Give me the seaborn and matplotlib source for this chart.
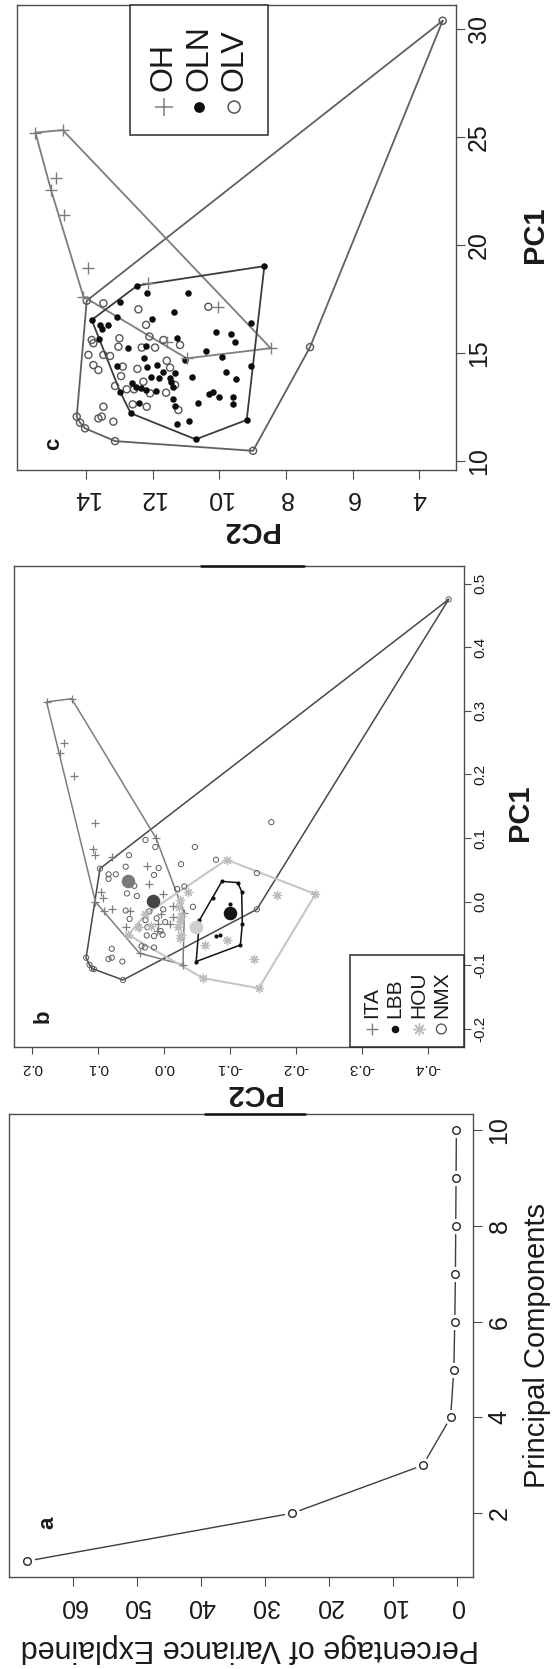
"""
Three-panel PCA figure (scree plot, PC scores by population, PC scores by
type), drawn in portrait orientation: each panel's PC1 / component axis runs
up the page and PC2 / variance runs right-to-left.
"""

import numpy as np
import matplotlib
matplotlib.use("Agg")
import matplotlib.pyplot as plt
from matplotlib.patches import Rectangle
from matplotlib.ticker import FormatStrFormatter
import seaborn as sns

# ---- panel a: scree plot ---------------------------------------------------
COMPONENTS = [1, 2, 3, 4, 5, 6, 7, 8, 9, 10]
PCT_VARIANCE = [67.2, 25.7, 5.3, 0.95, 0.45, 0.3, 0.2, 0.15, 0.1, 0.05]

# ---- panel b: PC scores by population --------------------------------------
ITA_PC2 = [0.178, 0.140, 0.151, 0.158, 0.137, 0.104, 0.108, 0.105, 0.078,
           0.026, 0.012, 0.096, 0.092, 0.079, 0.104, 0.091, 0.058, 0.051,
           0.001, -0.014, -0.014, -0.009, 0.009, 0.010, 0.037, -0.029,
           -0.031, 0.038, 0.022, 0.005]
ITA_PC1 = [0.314, 0.319, 0.250, 0.234, 0.197, 0.123, 0.083, 0.074, 0.071,
           0.056, 0.100, 0.016, 0.006, -0.011, 0.000, -0.015, -0.040, -0.015,
           0.012, -0.007, -0.024, -0.035, -0.035, -0.046, -0.081, -0.099,
           -0.018, -0.040, 0.028, -0.020]

LBB_PC2 = [-0.088, -0.112, -0.118, -0.119, -0.116, -0.049, -0.054, -0.074,
           -0.079, -0.085, -0.101]
LBB_PC1 = [0.032, 0.030, 0.016, -0.035, -0.068, -0.094, -0.029, 0.006,
           -0.054, -0.053, -0.003]

HOU_PC2 = [-0.095, -0.230, -0.171, -0.036, -0.025, -0.023, -0.026, -0.024,
           -0.026, -0.095, -0.062, -0.136, -0.144, -0.059, 0.028, 0.019,
           0.054, 0.039, -0.021, -0.024]
HOU_PC1 = [0.066, 0.012, 0.010, 0.016, 0.003, -0.008, -0.022, -0.031,
           -0.052, -0.060, -0.068, -0.090, -0.136, -0.120, -0.020, -0.038,
           -0.052, -0.040, -0.040, -0.057]

NMX_PC2 = [-0.432, -0.163, -0.047, -0.079, -0.141, 0.028, 0.013, 0.053,
           0.058, 0.008, 0.015, -0.026, -0.031, -0.020, -0.044, -0.141,
           0.056, 0.041, 0.084, 0.084, 0.073, 0.058, 0.052, 0.028, 0.025,
           0.026, 0.015, 0.002, 0.005, -0.002, 0.001, 0.034, 0.029, 0.015,
           0.079, 0.079, 0.084, 0.063, 0.118, 0.113, 0.109, 0.106, 0.062,
           0.097, 0.011, 0.022, 0.045]
NMX_PC1 = [0.475, 0.125, 0.086, 0.066, 0.045, 0.097, 0.086, 0.073, 0.055,
           0.053, 0.042, 0.059, 0.024, 0.020, -0.008, -0.012, 0.013, 0.009,
           0.043, 0.036, 0.043, -0.014, -0.027, -0.029, -0.040, -0.053,
           -0.054, -0.052, -0.046, -0.032, -0.012, -0.070, -0.072, -0.072,
           -0.074, -0.088, -0.090, -0.094, -0.088, -0.099, -0.105, -0.106,
           -0.123, 0.052, -0.026, -0.015, 0.025]

CENTROID_GROUPS = ["ITA", "NMX", "HOU", "LBB"]
CENTROID_PC2 = [0.054, 0.016, -0.049, -0.100]
CENTROID_PC1 = [0.032, 0.001, -0.040, -0.018]

# ---- panel c: PC scores by type --------------------------------------------
OH_PC2 = [15.52, 14.70, 14.90, 15.05, 14.67, 13.93, 14.08, 12.13, 10.03,
          11.58, 10.98, 8.46]
OH_PC1 = [25.19, 25.31, 23.07, 22.53, 21.37, 18.91, 17.60, 18.21, 17.13,
          15.51, 14.74, 15.21]

OLN_PC2 = [12.46, 12.16, 10.95, 12.98, 11.36, 12.03, 13.08, 13.83, 13.58,
           13.33, 13.53, 13.60, 12.73, 12.20, 11.28, 12.25, 10.41, 9.91,
           10.11, 9.66, 9.06, 9.53, 9.06, 11.03, 12.16, 13.08, 11.88, 11.68,
           11.33, 11.48, 12.06, 11.80, 10.83, 12.63, 12.50, 12.35, 12.20,
           11.90, 11.45, 11.38, 12.98, 12.41, 11.40, 11.33, 10.65, 10.30,
           10.18, 10.00, 9.81, 9.50, 9.60, 9.58, 12.66, 11.28, 10.91, 9.18,
           8.65, 10.71]
OLN_PC1 = [18.11, 17.75, 17.75, 17.37, 16.90, 16.56, 16.67, 16.52, 16.29,
           16.29, 16.08, 15.62, 15.24, 15.31, 15.67, 14.74, 15.08, 14.82,
           15.98, 15.85, 16.39, 15.51, 14.40, 14.66, 14.36, 14.39, 14.43,
           14.12, 14.08, 13.82, 13.89, 13.82, 13.89, 13.58, 13.43, 13.35,
           13.28, 13.24, 13.66, 13.43, 13.20, 12.69, 12.84, 12.55, 12.66,
           13.09, 13.20, 12.94, 14.12, 13.77, 12.97, 12.63, 12.20, 11.69,
           11.86, 11.89, 19.01, 10.99]

OLV_PC2 = [13.98, 13.48, 12.43, 12.20, 12.10, 13.00, 13.83, 13.78, 13.93,
           13.48, 13.28, 13.03, 12.33, 11.93, 11.68, 11.18, 13.78, 13.63,
           12.90, 12.46, 11.58, 11.48, 12.95, 12.28, 13.13, 12.78, 12.56,
           11.33, 11.60, 12.60, 12.18, 13.48, 13.53, 13.63, 13.18, 11.23,
           14.28, 14.18, 14.03, 10.33, 12.08, 3.30, 7.28, 8.99, 13.13]
OLV_PC1 = [17.41, 17.29, 17.01, 16.29, 15.75, 15.67, 15.59, 15.44, 14.90,
           14.90, 14.85, 15.28, 15.24, 15.24, 15.59, 15.36, 14.43, 14.20,
           14.36, 14.25, 14.63, 14.31, 13.92, 13.66, 13.46, 13.31, 13.31,
           13.51, 13.15, 12.61, 12.50, 12.50, 12.04, 11.96, 11.81, 12.35,
           12.04, 11.76, 11.50, 17.13, 13.12, 30.37, 15.26, 10.46, 10.91]

# ---- styling ---------------------------------------------------------------
INK = "#1a1a1a"
FRAME = "#4d4d4d"
FONT = ["Liberation Sans", "DejaVu Sans"]

STYLE_B = {
    "ITA": dict(marker="+", color="#7d7d7d", s=34, linewidth=0.9),
    "LBB": dict(marker="o", color="#111111", s=9, linewidth=0),
    "HOU": dict(marker=(8, 2, 0), color="#bdbdbd", s=38, linewidth=0.9),
    "NMX": dict(marker="o", facecolor="none", edgecolor="#5a5a5a", s=14,
                linewidth=0.7),
}
HULL_B = {"ITA": "#7d7d7d", "LBB": "#111111", "HOU": "#c6c6c6",
          "NMX": "#474747"}
CENTROID_COLORS = {"ITA": "#7a7a7a", "NMX": "#454545", "HOU": "#cfcfcf",
                   "LBB": "#141414"}

STYLE_C = {
    "OH": dict(marker="+", color="#7d7d7d", s=64, linewidth=1.0),
    "OLN": dict(marker="o", color="#0d0d0d", s=22, linewidth=0),
    "OLV": dict(marker="o", facecolor="none", edgecolor="#555555", s=26,
                linewidth=1.0),
}
HULL_C = {"OH": "#7d7d7d", "OLN": "#3c3c3c", "OLV": "#606060"}


def convex_hull(xs, ys):
    """Monotone-chain hull, returned closed so it can be drawn as a line."""
    pts = sorted(set(zip(xs, ys)))

    def cross(o, a, b):
        return (a[0] - o[0]) * (b[1] - o[1]) - (a[1] - o[1]) * (b[0] - o[0])

    lower, upper = [], []
    for p in pts:
        while len(lower) >= 2 and cross(lower[-2], lower[-1], p) <= 0:
            lower.pop()
        lower.append(p)
    for p in reversed(pts):
        while len(upper) >= 2 and cross(upper[-2], upper[-1], p) <= 0:
            upper.pop()
        upper.append(p)
    ring = lower[:-1] + upper[:-1]
    ring.append(ring[0])
    return [p[0] for p in ring], [p[1] for p in ring]


def frame(ax):
    for sp in ax.spines.values():
        sp.set_visible(True)
        sp.set_color(FRAME)
        sp.set_linewidth(1.0)


def bottom_axis_label(ax, text, xy, size, weight="normal"):
    ax.set_xlabel(text, fontsize=size, fontweight=weight, rotation=180,
                  color=INK)
    ax.xaxis.label.set_va("center")
    ax.xaxis.set_label_coords(*xy)


def right_axis_label(ax, text, xy, size, weight="normal"):
    ax.set_ylabel(text, fontsize=size, fontweight=weight, rotation=90,
                  color=INK)
    ax.yaxis.set_label_position("right")
    ax.yaxis.label.set_va("center")
    ax.yaxis.label.set_ha("center")
    ax.yaxis.set_label_coords(*xy)


def ticks(ax, size, len_x, len_y, pad_x, pad_y):
    ax.tick_params(axis="x", bottom=True, top=False, length=len_x, width=0.8,
                   color=FRAME, labelsize=size, labelcolor=INK, pad=pad_x,
                   labelrotation=180)
    ax.tick_params(axis="y", left=False, right=True, labelleft=False,
                   labelright=True, length=len_y, width=0.8, color=FRAME,
                   labelsize=size, labelcolor=INK, pad=pad_y,
                   labelrotation=90)
    for lab in ax.get_yticklabels():
        lab.set_va("center")


def manual_legend(ax, box, items, sym_y, txt_y, size):
    x0, y0, x1, y1 = box
    ax.add_patch(Rectangle((x0, y0), x1 - x0, y1 - y0, transform=ax.transAxes,
                           facecolor="white", edgecolor="#2b2b2b", lw=1.1,
                           zorder=5, clip_on=False))
    for label, xpos, style in items:
        ax.scatter([xpos], [sym_y], transform=ax.transAxes, zorder=6,
                   clip_on=False, **style)
        ax.text(xpos, txt_y, label, transform=ax.transAxes, rotation=90,
                rotation_mode="anchor", ha="left", va="center",
                fontsize=size, color=INK, zorder=6)


def main() -> None:
    sns.set_theme(style="white")
    plt.rcParams["font.family"] = FONT

    fig = plt.figure(figsize=(5.6, 16.69), dpi=100)
    ax_c = fig.add_axes([0.0305, 0.71863, 0.7838, 0.27813])
    ax_b = fig.add_axes([0.0255, 0.37280, 0.8027, 0.28825])
    ax_a = fig.add_axes([0.0166, 0.05494, 0.8286, 0.27759])

    # ---- a: scree plot (type = "b") -----------------------------------------
    sns.lineplot(x=PCT_VARIANCE, y=COMPONENTS, sort=False, color="#3d3d3d",
                 linewidth=1.0, ax=ax_a, zorder=2)
    sns.scatterplot(x=PCT_VARIANCE, y=COMPONENTS, color="white", s=120,
                    linewidth=0, ax=ax_a, zorder=3)
    sns.scatterplot(x=PCT_VARIANCE, y=COMPONENTS, marker="o",
                    facecolor="white", edgecolor="#262626", s=30,
                    linewidth=1.0, ax=ax_a, zorder=4)
    ax_a.set_xlim(70.0, -2.6)
    ax_a.set_ylim(0.66, 10.34)
    ax_a.set_xticks([0, 10, 20, 30, 40, 50, 60])
    ax_a.set_yticks([2, 4, 6, 8, 10])
    ticks(ax_a, 18, 6.7, 6.2, 5.0, 4.0)
    bottom_axis_label(ax_a, "Percentage of Variance Explained",
                      (0.519, -0.152), 22)
    right_axis_label(ax_a, "Principal Components", (1.137, 0.5), 21)
    ax_a.text(0.0825, 0.118, "a", transform=ax_a.transAxes, rotation=90,
              ha="center", va="center", fontsize=16, fontweight="bold",
              color=INK)
    ax_a.plot([0.421, 0.637], [1, 1], transform=ax_a.transAxes,
              color="#111111", lw=1.8, clip_on=False, zorder=6)
    frame(ax_a)

    # ---- b: populations -----------------------------------------------------
    groups_b = {"ITA": (ITA_PC2, ITA_PC1), "LBB": (LBB_PC2, LBB_PC1),
                "HOU": (HOU_PC2, HOU_PC1), "NMX": (NMX_PC2, NMX_PC1)}
    for name in ["NMX", "ITA", "HOU", "LBB"]:
        xs, ys = groups_b[name]
        hx, hy = convex_hull(xs, ys)
        ax_b.plot(hx, hy, color=HULL_B[name],
                  lw=1.5 if name == "HOU" else 1.1, zorder=2)
    for name in ["NMX", "ITA", "HOU", "LBB"]:
        xs, ys = groups_b[name]
        sns.scatterplot(x=xs, y=ys, ax=ax_b, zorder=3, **STYLE_B[name])
    for g, cx, cy in zip(CENTROID_GROUPS, CENTROID_PC2, CENTROID_PC1):
        sns.scatterplot(x=[cx], y=[cy], color=CENTROID_COLORS[g], s=95,
                        linewidth=0, ax=ax_b, zorder=4)
    ax_b.set_xlim(0.227, -0.455)
    ax_b.set_ylim(-0.228, 0.528)
    ax_b.set_xticks([-0.4, -0.3, -0.2, -0.1, 0.0, 0.1, 0.2])
    ax_b.set_yticks([-0.2, -0.1, 0.0, 0.1, 0.2, 0.3, 0.4, 0.5])
    ax_b.xaxis.set_major_formatter(FormatStrFormatter("%.1f"))
    ax_b.yaxis.set_major_formatter(FormatStrFormatter("%.1f"))
    ticks(ax_b, 11, 4.8, 5.0, 5.5, 2.0)
    bottom_axis_label(ax_b, "PC2", (0.53, -0.097), 21, "bold")
    right_axis_label(ax_b, "PC1", (1.125, 0.486), 21, "bold")
    ax_b.text(0.064, 0.063, "b", transform=ax_b.transAxes, rotation=90,
              ha="center", va="center", fontsize=16, fontweight="bold",
              color=INK)
    ax_b.plot([0.416, 0.645], [1, 1], transform=ax_b.transAxes,
              color="#111111", lw=1.8, clip_on=False, zorder=6)
    legend_b = [
        ("ITA", 0.796, dict(marker="+", color="#7d7d7d", s=70, linewidth=1.0)),
        ("LBB", 0.846, dict(marker="o", color="#111111", s=30, linewidth=0)),
        ("HOU", 0.900, dict(marker=(8, 2, 0), color="#bdbdbd", s=70,
                            linewidth=1.0)),
        ("NMX", 0.950, dict(marker="o", facecolor="none",
                            edgecolor="#5a5a5a", s=50, linewidth=1.0)),
    ]
    manual_legend(ax_b, (0.746, 0.0, 1.0, 0.191), legend_b, 0.037, 0.060, 15)
    frame(ax_b)

    # ---- c: olive types -----------------------------------------------------
    groups_c = {"OH": (OH_PC2, OH_PC1), "OLN": (OLN_PC2, OLN_PC1),
                "OLV": (OLV_PC2, OLV_PC1)}
    for name in ["OLV", "OH", "OLN"]:
        xs, ys = groups_c[name]
        hx, hy = convex_hull(xs, ys)
        ax_c.plot(hx, hy, color=HULL_C[name], lw=1.3, zorder=2)
    for name in ["OLV", "OLN", "OH"]:
        xs, ys = groups_c[name]
        sns.scatterplot(x=xs, y=ys, ax=ax_c, zorder=3, **STYLE_C[name])
    ax_c.set_xlim(16.07, 2.9)
    ax_c.set_ylim(9.59, 31.08)
    ax_c.set_xticks([4, 6, 8, 10, 12, 14])
    ax_c.set_yticks([10, 15, 20, 25, 30])
    ticks(ax_c, 18, 6.5, 6.5, 5.5, 1.5)
    bottom_axis_label(ax_c, "PC2", (0.53, -0.13), 21, "bold")
    right_axis_label(ax_c, "PC1", (1.18, 0.507), 21, "bold")
    ax_c.text(0.084, 0.0545, "c", transform=ax_c.transAxes, rotation=90,
              ha="center", va="center", fontsize=16, fontweight="bold",
              color=INK)
    legend_c = [
        ("OH", 0.3345, dict(marker="+", color="#7d7d7d", s=150, linewidth=1.1)),
        ("OLN", 0.4152, dict(marker="o", color="#0d0d0d", s=60, linewidth=0)),
        ("OLV", 0.4945, dict(marker="o", facecolor="none",
                             edgecolor="#555555", s=75, linewidth=1.1)),
    ]
    manual_legend(ax_c, (0.2569, 0.7216, 0.5707, 1.0), legend_c, 0.781,
                  0.8156, 23)
    frame(ax_c)

    fig.savefig("out.png", dpi=100)
    plt.close(fig)


if __name__ == "__main__":
    main()
